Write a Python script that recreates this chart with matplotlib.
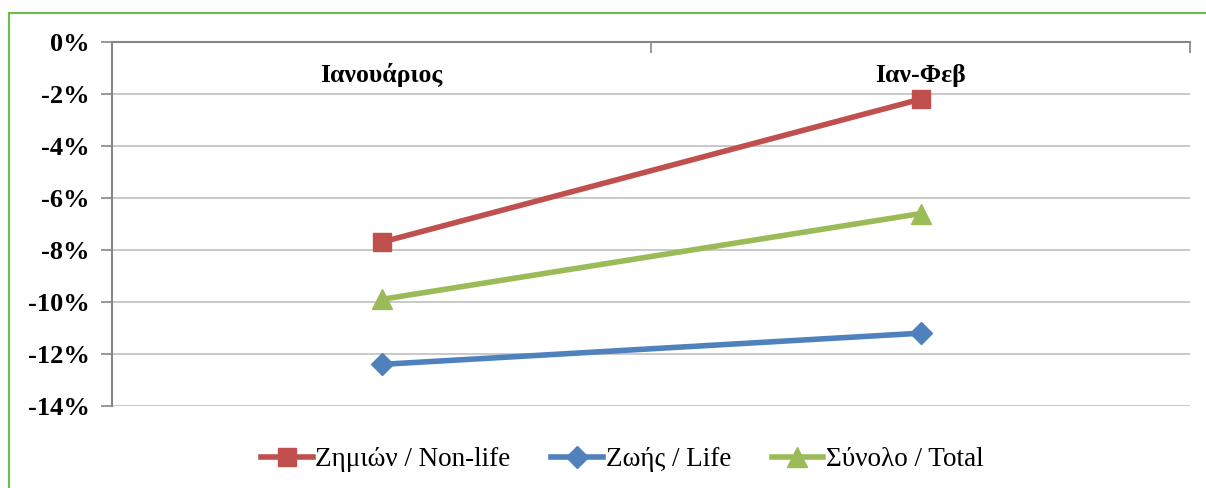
import matplotlib.pyplot as plt
from matplotlib.patches import Rectangle
from matplotlib.ticker import FuncFormatter, FixedLocator

categories = ['Ιανουάριος', 'Ιαν-Φεβ']
non_life = [-7.7, -2.2]
life = [-12.4, -11.2]
total = [-9.9, -6.6]
series_names = ['Ζημιών / Non-life', 'Ζωής / Life', 'Σύνολο / Total']

RED = '#C0504D'
BLUE = '#4F81BD'
GREEN = '#9BBB59'
AXIS = '#868686'
GRID = '#C0C0C0'

plt.rcParams['font.family'] = ['Liberation Serif', 'DejaVu Serif']

fig = plt.figure(figsize=(12.06, 4.88), dpi=100)
ax = fig.add_axes([112 / 1206, 1 - 406 / 488, (1190 - 112) / 1206, (406 - 42) / 488])

x = [1, 2]
ax.plot(x, non_life, color=RED, lw=4, marker='s', ms=13, label=series_names[0])
ax.plot(x, life, color=BLUE, lw=4, marker='D', ms=11, label=series_names[1])
ax.plot(x, total, color=GREEN, lw=4, marker='^', ms=15, label=series_names[2])

ax.set_xlim(0.5, 2.5)
ax.set_ylim(-14, 0)
ax.yaxis.set_major_locator(FixedLocator(range(-14, 1, 2)))
ax.yaxis.set_major_formatter(FuncFormatter(lambda v, p: '%d%%' % v))
ax.grid(axis='y', color=GRID, lw=1.2)
ax.set_axisbelow(True)

for s in ['bottom', 'right']:
    ax.spines[s].set_visible(False)
ax.spines['left'].set_color(AXIS)
ax.spines['left'].set_linewidth(1.5)
ax.spines['top'].set_color(AXIS)
ax.spines['top'].set_linewidth(1.5)

ax.tick_params(axis='y', length=8, width=1.2, color=AXIS, labelsize=19, pad=8)
for lab in ax.get_yticklabels():
    lab.set_fontweight('bold')

# category boundaries as ticks on the 0% line
ax.xaxis.tick_top()
ax.set_xticks([0.5, 1.5, 2.5])
ax.set_xticklabels([])
ax.tick_params(axis='x', direction='in', length=8, width=1.2, color=AXIS)

for xi, cat in zip(x, categories):
    ax.text(xi, -1.27, cat, ha='center', va='center', fontsize=18.5,
            fontweight='bold')

fig.legend(loc='center', bbox_to_anchor=(0.516, 1 - 460 / 488), ncol=3,
           frameon=False, fontsize=19.5, handlelength=1.9, handletextpad=0.1,
           columnspacing=1.5)

fig.patches.append(Rectangle((9 / 1206, -0.1), 1.2, 1 - 13 / 488 + 0.1,
                             transform=fig.transFigure, fill=False,
                             edgecolor='#6DBE45', lw=1.5))

fig.savefig('out.png', dpi=100)
